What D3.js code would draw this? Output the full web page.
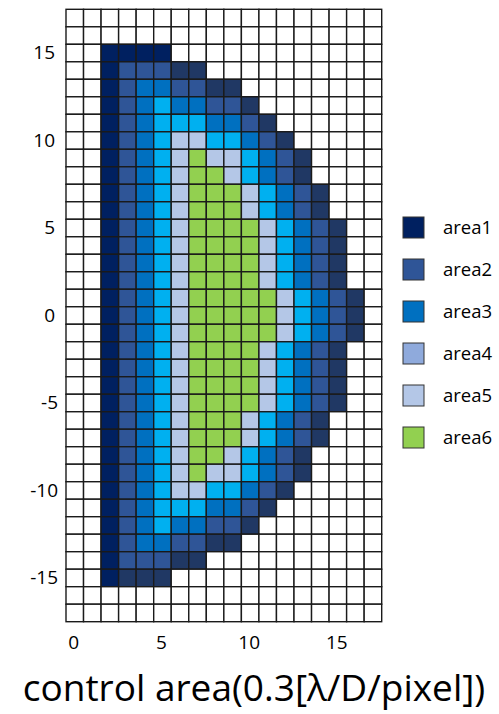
<!DOCTYPE html>
<html>
<head>
<meta charset="utf-8">
<script src="https://cdnjs.cloudflare.com/ajax/libs/d3/7.8.5/d3.min.js"></script>
<style>
	body { margin: 0; background: #fff; }
	text { font-family: "Open Sans", "Noto Sans", sans-serif; fill: #000; }
</style>
</head>
<body>
<script>
/* Data: one string per row, from y = 17 down to y = -17, one char per column x = 0..17.
   '.' = empty, '1'..'6' = area, 'e' = outer edge. */
const xValues = d3.range(0, 18);
const yValues = d3.range(17, -18, -1);
const rows = [
	'..................',
	'..................',
	'..1111............',
	'..1222ee..........',
	'..123322ee........',
	'..12343322e.......',
	'..123444332e......',
	'..1234554432e.....',
	'..12345655432e....',
	'..12345665432e....',
	'..123456665432e...',
	'..123456665432e...',
	'..1234566665432e..',
	'..1234566665432e..',
	'..1234566665432e..',
	'..1234566665432e..',
	'..12345666665432e.',
	'..12345666665432e.',
	'..12345666665432e.',
	'..1234566665432e..',
	'..1234566665432e..',
	'..1234566665432e..',
	'..1234566665432e..',
	'..123456665432e...',
	'..123456665432e...',
	'..12345665432e....',
	'..12345655432e....',
	'..1234554432e.....',
	'..123444332e......',
	'..12343322e.......',
	'..123322ee........',
	'..1222ee..........',
	'..1eee............',
	'..................',
	'..................'
];
const xTicks = [0, 5, 10, 15];
const yTicks = [15, 10, 5, 0, -5, -10, -15];
const legendNames = ['area1', 'area2', 'area3', 'area4', 'area5', 'area6'];
const legendColors = ['#002060', '#2F5597', '#0070C0', '#8FAADC', '#B4C7E7', '#92D050'];
const cellColors = {
	'.': '#ffffff',
	'1': '#002060',
	'2': '#2F5597',
	'3': '#0070C0',
	'4': '#00B0F0',
	'5': '#B4C7E7',
	'6': '#92D050',
	'e': '#203864'
};
const title = 'control area(0.3[λ/D/pixel])';

/* Build cell list. */
let cells = [];
rows.forEach(function(row, i) {
	xValues.forEach(function(x) {
		cells.push({ x: x, y: yValues[i], code: row[x] });
	});
});

const svg = d3.select('body').append('svg')
	.attr('width', 499)
	.attr('height', 714);

const xScale = d3.scaleBand().domain(xValues).range([66, 381.7]);
const yScale = d3.scaleBand().domain(yValues).range([9.3, 621.7]);

/* Cells. */
svg.append('g')
	.selectAll('rect')
	.data(cells)
	.enter().append('rect')
		.attr('x', function(d) { return xScale(d.x); })
		.attr('y', function(d) { return yScale(d.y); })
		.attr('width', xScale.bandwidth())
		.attr('height', yScale.bandwidth())
		.attr('fill', function(d) { return cellColors[d.code]; })
		.attr('stroke', '#1a1a1a')
		.attr('stroke-width', 1.4);

/* X axis labels. */
svg.append('g')
	.attr('transform', 'translate(-1,' + 635 + ')')
	.call(d3.axisBottom(xScale).tickValues(xTicks).tickSize(0).tickPadding(0))
	.call(function(g) { g.select('.domain').remove(); })
	.selectAll('text')
		.attr('dy', '0.71em')
		.style('font-size', '19px')
		.style('font-family', '"Open Sans", sans-serif')
		.attr('fill', '#000');

/* Y axis labels (negative ones sit a bit further right, as in the original). */
svg.append('g')
	.attr('transform', 'translate(' + 55 + ',0)')
	.call(d3.axisLeft(yScale).tickValues(yTicks).tickSize(0).tickPadding(0))
	.call(function(g) { g.select('.domain').remove(); })
	.selectAll('text')
		.attr('x', function(d) { return d < 0 ? 3 : 0; })
		.style('font-size', '19px')
		.style('font-family', '"Open Sans", sans-serif')
		.attr('fill', '#000');

/* Legend. */
const legend = svg.append('g')
	.selectAll('g')
	.data(legendNames)
	.enter().append('g')
		.attr('transform', function(_, i) { return 'translate(403,' + (217 + i * 42) + ')'; });
legend.append('rect')
	.attr('width', 21)
	.attr('height', 21)
	.attr('fill', function(_, i) { return legendColors[i]; })
	.attr('stroke', '#333')
	.attr('stroke-width', 1);
legend.append('text')
	.attr('x', 40)
	.attr('y', 10.5)
	.attr('dy', '0.35em')
	.style('font-size', '18.5px')
	.text(function(d) { return d; });

/* Title. */
svg.append('text')
	.attr('x', 254)
	.attr('y', 701)
	.attr('text-anchor', 'middle')
	.style('font-size', '37px')
	.text(title);
</script>
</body>
</html>
